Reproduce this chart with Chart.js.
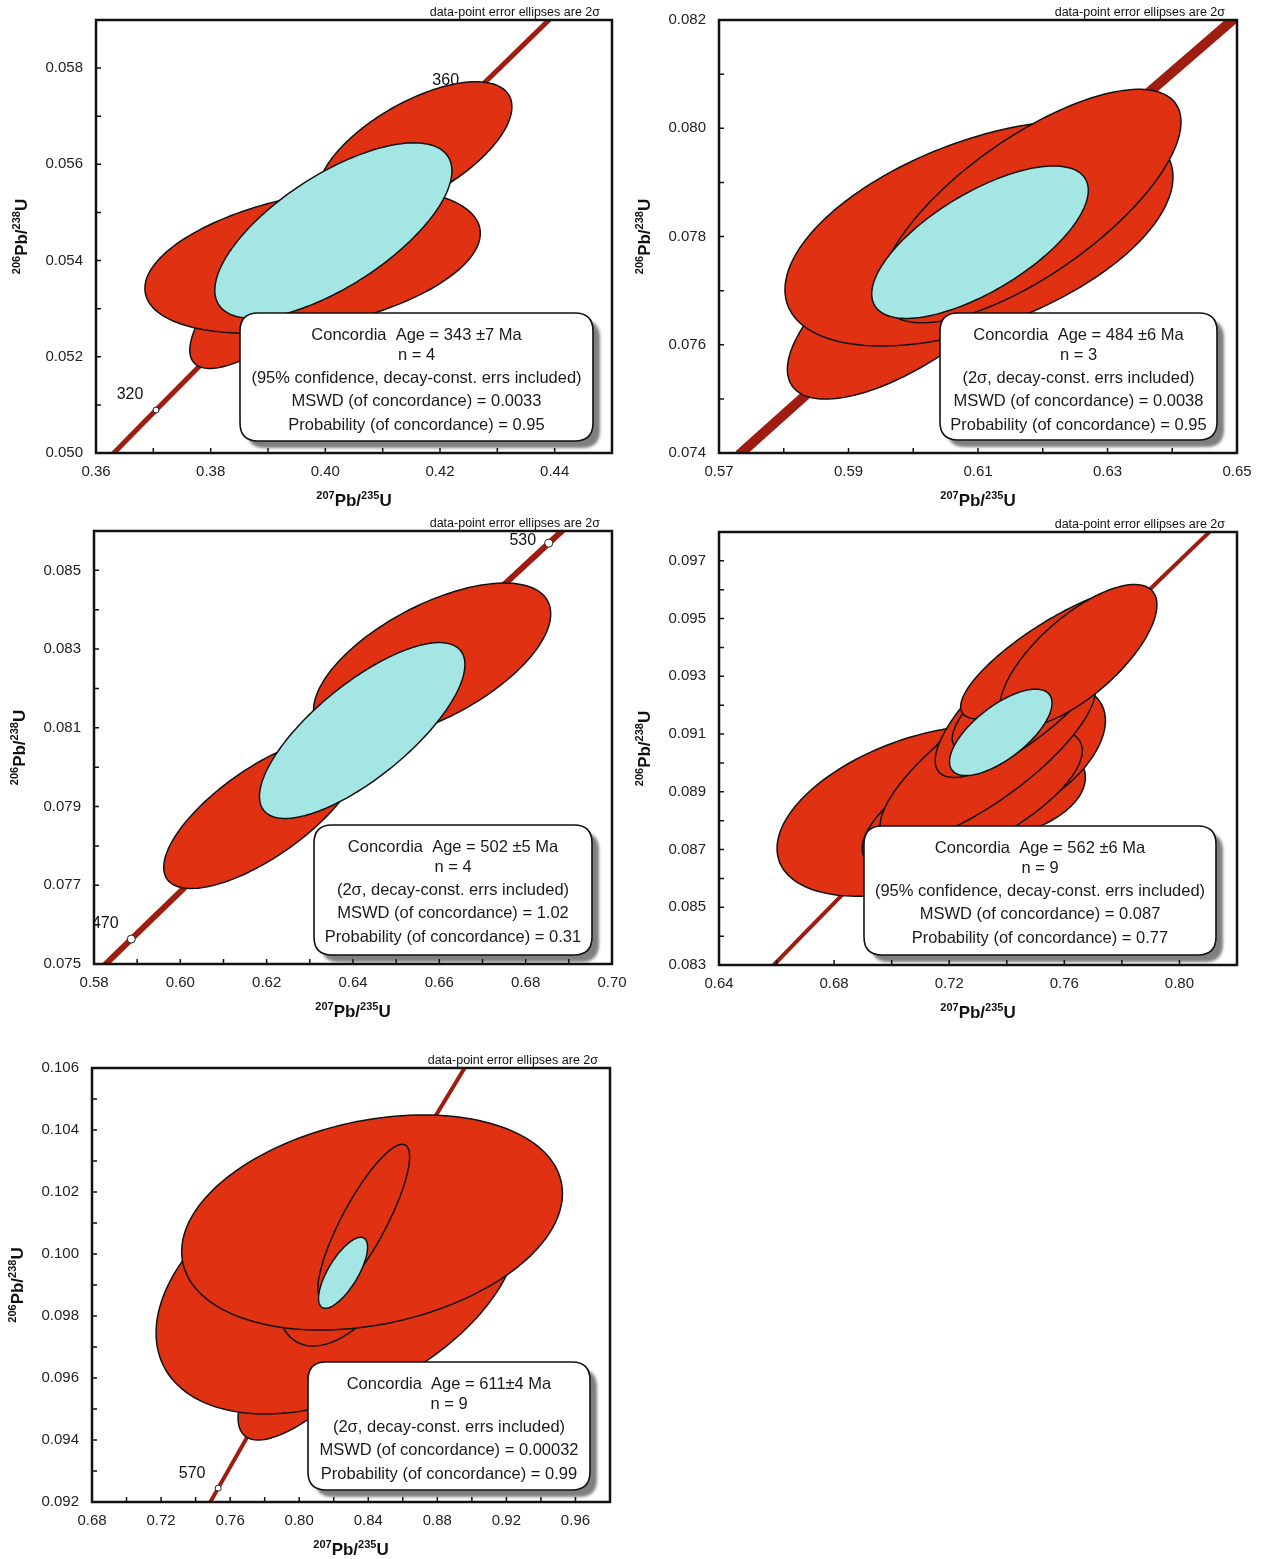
<!DOCTYPE html>
<html>
<head>
<meta charset="utf-8">
<script src="https://cdn.jsdelivr.net/npm/chart.js@4.4.1/dist/chart.umd.min.js"></script>
<style>
  body { margin: 0; background: #fff; width: 1261px; height: 1559px; position: relative; overflow: hidden; }
  canvas { position: absolute; }
</style>
</head>
<body>
<canvas id="c1"></canvas>
<canvas id="c2"></canvas>
<canvas id="c3"></canvas>
<canvas id="c4"></canvas>
<canvas id="c5"></canvas>
<script>
// ---- data: concordia points (age Ma, 207Pb/235U, 206Pb/238U) ----
// ellipses: [207/235, 2s, 206/238, 2s, rho]

// panel 1
const p1ConcAge = [310, 320, 330, 340, 350, 360, 370];
const p1Conc207 = [0.35704, 0.37047, 0.38403, 0.39773, 0.41156, 0.42553, 0.43964];
const p1Conc206 = [0.049264, 0.050893, 0.052524, 0.054158, 0.055795, 0.057434, 0.059075];
const p1MarkerAge = [320, 360];
const p1LabelAge = [320, 360];
const p1Ellipses = [
  [0.4156, 0.01694, 0.056311, 0.001405, 0.63],
  [0.39377, 0.01741, 0.053663, 0.001905, 0.80],
  [0.39778, 0.02925, 0.053994, 0.001506, 0.38]
];
const p1Mean = [0.40140, 0.02068, 0.054623, 0.001824, 0.68];
const p1XTicks = ['0.36', '0.38', '0.40', '0.42', '0.44'];
const p1YTicks = ['0.050', '0.052', '0.054', '0.056', '0.058'];
const p1Box = ['Concordia  Age = 343 ±7 Ma', 'n = 4', '(95% confidence, decay-const. errs included)',
  'MSWD (of concordance) = 0.0033', 'Probability (of concordance) = 0.95'];

// panel 2
const p2ConcAge = [460, 470, 480, 490, 500, 510];
const p2Conc207 = [0.57307, 0.58864, 0.60436, 0.62025, 0.63628, 0.65248];
const p2Conc206 = [0.073965, 0.075633, 0.077302, 0.078975, 0.08065, 0.082328];
const p2MarkerAge = [];
const p2LabelAge = [];
const p2Ellipses = [
  [0.60027, 0.01971, 0.076827, 0.001831, 0.70],
  [0.61015, 0.02996, 0.078059, 0.002082, 0.50],
  [0.61811, 0.02324, 0.078563, 0.002156, 0.72]
];
const p2Mean = [0.61031, 0.016726, 0.077895, 0.001408, 0.68];
const p2XTicks = ['0.57', '0.59', '0.61', '0.63', '0.65'];
const p2YTicks = ['0.074', '0.076', '0.078', '0.080', '0.082'];
const p2Box = ['Concordia  Age = 484 ±6 Ma', 'n = 3', '(2σ, decay-const. errs included)',
  'MSWD (of concordance) = 0.0038', 'Probability (of concordance) = 0.95'];

// panel 3
const p3ConcAge = [460, 470, 480, 490, 500, 510, 520, 530, 540];
const p3Conc207 = [0.57307, 0.58864, 0.60436, 0.62025, 0.63628, 0.65248, 0.66883, 0.68535, 0.70203];
const p3Conc206 = [0.073965, 0.075633, 0.077302, 0.078975, 0.08065, 0.082328, 0.084008, 0.08569, 0.087376];
const p3MarkerAge = [470, 530];
const p3LabelAge = [470, 530];
const p3Ellipses = [
  [0.61889, 0.02274, 0.078841, 0.001923, 0.72],
  [0.65833, 0.02747, 0.082673, 0.002005, 0.61]
];
const p3Mean = [0.64213, 0.0238, 0.080931, 0.002234, 0.75];
const p3XTicks = ['0.58', '0.60', '0.62', '0.64', '0.66', '0.68', '0.70'];
const p3YTicks = ['0.075', '0.077', '0.079', '0.081', '0.083', '0.085'];
const p3Box = ['Concordia  Age = 502 ±5 Ma', 'n = 4', '(2σ, decay-const. errs included)',
  'MSWD (of concordance) = 1.02', 'Probability (of concordance) = 0.31'];

// panel 4
const p4ConcAge = [510, 520, 530, 540, 550, 560, 570, 580, 590, 600, 610];
const p4Conc207 = [0.65248, 0.66883, 0.68535, 0.70203, 0.71887, 0.73588, 0.75307, 0.77041, 0.78794, 0.80563, 0.8235];
const p4Conc206 = [0.082328, 0.084008, 0.08569, 0.087376, 0.089064, 0.090755, 0.092448, 0.094145, 0.095843, 0.097544, 0.099248];
const p4MarkerAge = [];
const p4LabelAge = [];
const p4Ellipses = [
  [0.70991, 0.04974, 0.088337, 0.002953, 0.44],
  [0.73722, 0.03009, 0.089097, 0.001727, 0.23],
  [0.74157, 0.0327, 0.090254, 0.002477, 0.49],
  [0.728, 0.03826, 0.088734, 0.002418, 0.70],
  [0.73339, 0.03739, 0.090168, 0.002915, 0.80],
  [0.74817, 0.03304, 0.092413, 0.002915, 0.80],
  [0.75374, 0.0327, 0.093052, 0.002601, 0.85],
  [0.75757, 0.0336, 0.093812, 0.002287, 0.815],
  [0.76487, 0.0273, 0.093708, 0.002473, 0.714]
];
const p4Mean = [0.73791, 0.01781, 0.091059, 0.001496, 0.68];
const p4XTicks = ['0.64', '0.68', '0.72', '0.76', '0.80'];
const p4YTicks = ['0.083', '0.085', '0.087', '0.089', '0.091', '0.093', '0.095', '0.097'];
const p4Box = ['Concordia  Age = 562 ±6 Ma', 'n = 9', '(95% confidence, decay-const. errs included)',
  'MSWD (of concordance) = 0.087', 'Probability (of concordance) = 0.77'];

// panel 5
const p5ConcAge = [560, 570, 580, 590, 600, 610, 620, 630, 640, 650, 660];
const p5Conc207 = [0.73588, 0.75307, 0.77041, 0.78794, 0.80563, 0.8235, 0.84155, 0.85978, 0.87818, 0.89677, 0.91554];
const p5Conc206 = [0.090755, 0.092448, 0.094145, 0.095843, 0.097544, 0.099248, 0.100955, 0.102664, 0.104376, 0.10609, 0.107807];
const p5MarkerAge = [570, 580];
const p5LabelAge = [570];
const p5Ellipses = [
  [0.82261, 0.058, 0.097548, 0.003548, 0.80],
  [0.82243, 0.10533, 0.099194, 0.004355, 0.40],
  [0.82957, 0.0429, 0.100355, 0.003323, 0.50],
  [0.8422, 0.11026, 0.101016, 0.003468, 0.27],
  [0.83739, 0.02655, 0.101016, 0.002523, 0.84]
];
const p5Mean = [0.82539, 0.0142, 0.099394, 0.001145, 0.72];
const p5XTicks = ['0.68', '0.72', '0.76', '0.80', '0.84', '0.88', '0.92', '0.96'];
const p5YTicks = ['0.092', '0.094', '0.096', '0.098', '0.100', '0.102', '0.104', '0.106'];
const p5Box = ['Concordia  Age = 611±4 Ma', 'n = 9', '(2σ, decay-const. errs included)',
  'MSWD (of concordance) = 0.00032', 'Probability (of concordance) = 0.99'];

const xTitle = [['207', true], ['Pb', false], ['/', false], ['235', true], ['U', false]];
const yTitle = [['206', true], ['Pb', false], ['/', false], ['238', true], ['U', false]];
const noteText = 'data-point error ellipses are 2σ';

const FONT = '"Liberation Sans", Arial, Helvetica, sans-serif';
const RED = '#e03212';
const CYAN = '#a4e6e3';
const CONC = '#9e1c10';

const panels = [
  { id: 'c1', left: 0, top: 0, w: 630, h: 515, plot: [96, 20, 612, 453],
    xr: [0.36, 0.45, 0.01], yr: [0.050, 0.059, 0.001], xt: p1XTicks, yt: p1YTicks,
    age: p1ConcAge, c207: p1Conc207, c206: p1Conc206, mk: p1MarkerAge, lb: p1LabelAge,
    ell: p1Ellipses, mean: p1Mean, box: p1Box, boxRect: [240, 313, 593, 441], lw: 5, mr: 3 },
  { id: 'c2', left: 630, top: 0, w: 631, h: 515, plot: [719, 20, 1237, 453],
    xr: [0.57, 0.65, 0.01], yr: [0.074, 0.082, 0.001], xt: p2XTicks, yt: p2YTicks,
    age: p2ConcAge, c207: p2Conc207, c206: p2Conc206, mk: p2MarkerAge, lb: p2LabelAge,
    ell: p2Ellipses, mean: p2Mean, box: p2Box, boxRect: [940, 313, 1217, 440], lw: 10, mr: 3 },
  { id: 'c3', left: 0, top: 515, w: 630, h: 515, plot: [94, 531, 612, 964],
    xr: [0.58, 0.70, 0.01], yr: [0.075, 0.086, 0.001], xt: p3XTicks, yt: p3YTicks,
    age: p3ConcAge, c207: p3Conc207, c206: p3Conc206, mk: p3MarkerAge, lb: p3LabelAge,
    ell: p3Ellipses, mean: p3Mean, box: p3Box, boxRect: [314, 825, 592, 955], lw: 6, mr: 4 },
  { id: 'c4', left: 630, top: 515, w: 631, h: 515, plot: [719, 532, 1237, 965],
    xr: [0.64, 0.82, 0.02], yr: [0.083, 0.098, 0.001], xt: p4XTicks, yt: p4YTicks,
    age: p4ConcAge, c207: p4Conc207, c206: p4Conc206, mk: p4MarkerAge, lb: p4LabelAge,
    ell: p4Ellipses, mean: p4Mean, box: p4Box, boxRect: [864, 826, 1216, 955], lw: 4, mr: 3 },
  { id: 'c5', left: 0, top: 1030, w: 630, h: 529, plot: [92, 1068, 610, 1502],
    xr: [0.68, 0.98, 0.02], yr: [0.092, 0.106, 0.001], xt: p5XTicks, yt: p5YTicks,
    age: p5ConcAge, c207: p5Conc207, c206: p5Conc206, mk: p5MarkerAge, lb: p5LabelAge,
    ell: p5Ellipses, mean: p5Mean, box: p5Box, boxRect: [308, 1362, 590, 1490], lw: 4, mr: 3 }
];

function labelFor(list) {
  return (v) => {
    const hit = list.find(t => Math.abs(parseFloat(t) - v) < 1e-7);
    return hit === undefined ? '' : hit;
  };
}

function drawEllipse(ctx, xs, ys, e, fill) {
  const [mx, ex, my, ey, rho] = e;
  const k = Math.sqrt(1 - rho * rho);
  ctx.beginPath();
  for (let i = 0; i <= 160; i++) {
    const t = i / 160 * Math.PI * 2;
    const px = xs.getPixelForValue(mx + ex * Math.cos(t));
    const py = ys.getPixelForValue(my + ey * (rho * Math.cos(t) + k * Math.sin(t)));
    if (i === 0) ctx.moveTo(px, py); else ctx.lineTo(px, py);
  }
  ctx.closePath();
  ctx.fillStyle = fill;
  ctx.fill();
  ctx.lineWidth = 1.5;
  ctx.strokeStyle = '#111';
  ctx.stroke();
}

function roundRect(ctx, x, y, w, h, r) {
  ctx.beginPath();
  ctx.moveTo(x + r, y);
  ctx.lineTo(x + w - r, y);
  ctx.quadraticCurveTo(x + w, y, x + w, y + r);
  ctx.lineTo(x + w, y + h - r);
  ctx.quadraticCurveTo(x + w, y + h, x + w - r, y + h);
  ctx.lineTo(x + r, y + h);
  ctx.quadraticCurveTo(x, y + h, x, y + h - r);
  ctx.lineTo(x, y + r);
  ctx.quadraticCurveTo(x, y, x + r, y);
  ctx.closePath();
}

function drawIsoTitle(ctx, parts, cx, cy, vertical) {
  const big = 'bold 17px ' + FONT, small = 'bold 11px ' + FONT;
  let total = 0;
  parts.forEach(([s, sup]) => { ctx.font = sup ? small : big; total += ctx.measureText(s).width; });
  ctx.save();
  ctx.translate(cx, cy);
  if (vertical) ctx.rotate(-Math.PI / 2);
  ctx.fillStyle = '#111';
  ctx.textAlign = 'left';
  ctx.textBaseline = 'alphabetic';
  let x = -total / 2;
  parts.forEach(([s, sup]) => {
    ctx.font = sup ? small : big;
    ctx.fillText(s, x, sup ? -1 : 6);
    x += ctx.measureText(s).width;
  });
  ctx.restore();
}

const concPlugin = {
  id: 'concPlugin',
  afterDatasetsDraw(chart) {
    const p = chart.options.plugins.concPlugin.panel;
    const { ctx, chartArea: a } = chart;
    const xs = chart.scales.x, ys = chart.scales.y;

    ctx.save();
    ctx.beginPath();
    ctx.rect(a.left, a.top, a.right - a.left, a.bottom - a.top);
    ctx.clip();
    // age labels on the concordia
    ctx.font = '16px ' + FONT;
    ctx.fillStyle = '#111';
    ctx.textAlign = 'center';
    ctx.textBaseline = 'middle';
    p.lb.forEach(ag => {
      const i = p.age.indexOf(ag);
      const mx = xs.getPixelForValue(p.c207[i]);
      const my = ys.getPixelForValue(p.c206[i]);
      ctx.fillText(String(ag), mx - 26, Math.max(my - 15, a.top + 10));
    });
    // error ellipses, then the concordia-age ellipse
    p.ell.forEach(e => drawEllipse(ctx, xs, ys, e, RED));
    drawEllipse(ctx, xs, ys, p.mean, CYAN);
    ctx.restore();

    // result box
    const [bl, bt, br, bb] = [p.boxRect[0] - p.left, p.boxRect[1] - p.top, p.boxRect[2] - p.left, p.boxRect[3] - p.top];
    ctx.save();
    ctx.shadowColor = 'rgba(0,0,0,0.5)';
    ctx.shadowBlur = 3;
    ctx.shadowOffsetX = 7;
    ctx.shadowOffsetY = 7;
    roundRect(ctx, bl, bt, br - bl, bb - bt, 18);
    ctx.fillStyle = '#fff';
    ctx.fill();
    ctx.restore();
    ctx.save();
    roundRect(ctx, bl, bt, br - bl, bb - bt, 18);
    ctx.lineWidth = 1.6;
    ctx.strokeStyle = '#111';
    ctx.stroke();
    ctx.font = '16.5px ' + FONT;
    ctx.fillStyle = '#1a1a1a';
    ctx.textAlign = 'center';
    ctx.textBaseline = 'middle';
    const lineY = [22, 42, 65, 88, 112];
    p.box.forEach((s, i) => ctx.fillText(s, (bl + br) / 2, bt + lineY[i]));
    ctx.restore();

    // inward tick marks
    ctx.save();
    ctx.strokeStyle = '#111';
    ctx.lineWidth = 1.5;
    ctx.beginPath();
    xs.ticks.forEach(t => {
      const px = xs.getPixelForValue(t.value);
      ctx.moveTo(px, a.bottom); ctx.lineTo(px, a.bottom - 5);
    });
    ys.ticks.forEach(t => {
      const py = ys.getPixelForValue(t.value);
      ctx.moveTo(a.left, py); ctx.lineTo(a.left + 5, py);
    });
    ctx.stroke();
    // frame
    ctx.lineWidth = 2.5;
    ctx.strokeRect(a.left, a.top, a.right - a.left, a.bottom - a.top);
    ctx.restore();

    // note and axis titles
    ctx.save();
    ctx.font = '12.5px ' + FONT;
    ctx.fillStyle = '#111';
    ctx.textAlign = 'right';
    ctx.textBaseline = 'alphabetic';
    ctx.fillText(noteText, a.right - 12, a.top - 4);
    ctx.restore();
    drawIsoTitle(ctx, xTitle, (a.left + a.right) / 2, a.bottom + 47, false);
    drawIsoTitle(ctx, yTitle, a.left - 75, (a.top + a.bottom) / 2, true);
  }
};

Chart.defaults.font.family = FONT;

panels.forEach(p => {
  const cv = document.getElementById(p.id);
  cv.width = p.w; cv.height = p.h;
  cv.style.left = p.left + 'px'; cv.style.top = p.top + 'px';
  cv.style.width = p.w + 'px'; cv.style.height = p.h + 'px';
  const pl = p.plot[0] - p.left, pt = p.plot[1] - p.top, pr = p.plot[2] - p.left, pb = p.plot[3] - p.top;
  const xAxisH = 40;

  const concData = p.age.map((a, i) => ({ x: p.c207[i], y: p.c206[i] }));
  const markData = p.mk.map(a => { const i = p.age.indexOf(a); return { x: p.c207[i], y: p.c206[i] }; });

  new Chart(cv, {
    type: 'scatter',
    data: {
      datasets: [
        { data: markData, pointRadius: p.mr, pointBackgroundColor: '#fff', pointBorderColor: '#222',
          pointBorderWidth: 1, clip: 0 },
        { data: concData, showLine: true, borderColor: CONC, borderWidth: p.lw, pointRadius: 0, clip: 0 }
      ]
    },
    options: {
      responsive: false,
      animation: false,
      devicePixelRatio: 1,
      layout: { padding: { left: 0, top: pt, right: p.w - pr, bottom: p.h - pb - xAxisH } },
      plugins: { legend: { display: false }, tooltip: { enabled: false }, concPlugin: { panel: p } },
      scales: {
        x: {
          type: 'linear', min: p.xr[0], max: p.xr[1],
          afterFit: s => { s.height = xAxisH; s.paddingLeft = 0; s.paddingRight = 0; },
          grid: { display: false, drawTicks: false }, border: { display: false },
          ticks: { stepSize: p.xr[2], autoSkip: false, maxRotation: 0, padding: 10,
            color: '#222', font: { size: 15 }, callback: labelFor(p.xt) }
        },
        y: {
          type: 'linear', min: p.yr[0], max: p.yr[1],
          afterFit: s => { s.width = pl; s.paddingTop = 0; s.paddingBottom = 0; },
          grid: { display: false, drawTicks: false }, border: { display: false },
          ticks: { stepSize: p.yr[2], autoSkip: false, padding: 13,
            color: '#222', font: { size: 15 }, callback: labelFor(p.yt) }
        }
      }
    },
    plugins: [concPlugin]
  });
});
</script>
</body>
</html>
